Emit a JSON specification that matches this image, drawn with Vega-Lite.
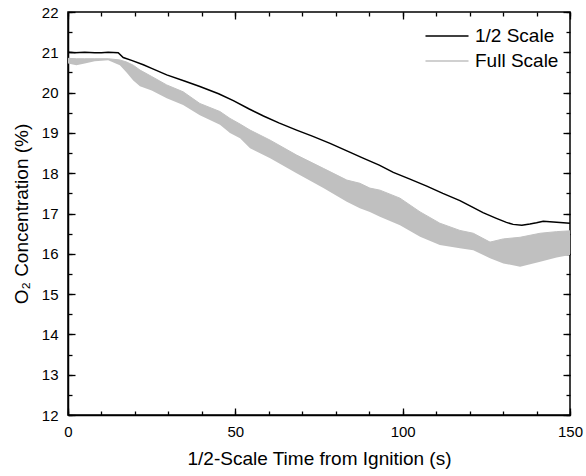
{
  "$schema": "https://vega.github.io/schema/vega-lite/v6.json",
  "width": 502,
  "height": 403,
  "autosize": {"type": "none"},
  "padding": {"left": 68, "top": 12, "right": 16, "bottom": 61},
  "config": {
    "view": {"stroke": "black", "strokeWidth": 1.5},
    "font": "Liberation Sans"
  },
  "datasets": {
    "half": [
      {"t": 0, "v": 21.0}, {"t": 2, "v": 20.99}, {"t": 5, "v": 21.0}, {"t": 8, "v": 20.99},
      {"t": 10, "v": 20.99}, {"t": 12, "v": 21.0}, {"t": 15, "v": 20.99}, {"t": 16.5, "v": 20.87},
      {"t": 19, "v": 20.8}, {"t": 22.5, "v": 20.69}, {"t": 25, "v": 20.6}, {"t": 29.5, "v": 20.44},
      {"t": 35, "v": 20.28}, {"t": 39.4, "v": 20.15}, {"t": 45, "v": 19.97}, {"t": 49.4, "v": 19.8},
      {"t": 54, "v": 19.6}, {"t": 58.4, "v": 19.42}, {"t": 63, "v": 19.25}, {"t": 68.3, "v": 19.07},
      {"t": 73, "v": 18.92}, {"t": 78.3, "v": 18.74}, {"t": 84, "v": 18.53}, {"t": 88, "v": 18.38},
      {"t": 93, "v": 18.2}, {"t": 97.2, "v": 18.02}, {"t": 102, "v": 17.86}, {"t": 107.2, "v": 17.68},
      {"t": 112, "v": 17.5}, {"t": 117.1, "v": 17.32}, {"t": 121, "v": 17.15}, {"t": 124, "v": 17.02},
      {"t": 128, "v": 16.88}, {"t": 131, "v": 16.78}, {"t": 133, "v": 16.73}, {"t": 135.6, "v": 16.71},
      {"t": 138, "v": 16.74}, {"t": 140, "v": 16.77}, {"t": 142, "v": 16.81}, {"t": 145, "v": 16.79},
      {"t": 148, "v": 16.77}, {"t": 150, "v": 16.76}
    ],
    "full": [
      {"t": 0, "lo": 20.72, "hi": 20.85}, {"t": 2.5, "lo": 20.68, "hi": 20.84},
      {"t": 5, "lo": 20.72, "hi": 20.84}, {"t": 8, "lo": 20.78, "hi": 20.84},
      {"t": 12, "lo": 20.8, "hi": 20.84}, {"t": 15.5, "lo": 20.68, "hi": 20.81},
      {"t": 17.5, "lo": 20.5, "hi": 20.76}, {"t": 19.5, "lo": 20.3, "hi": 20.68},
      {"t": 21.5, "lo": 20.16, "hi": 20.56}, {"t": 25, "lo": 20.05, "hi": 20.4},
      {"t": 29.5, "lo": 19.86, "hi": 20.19}, {"t": 34.4, "lo": 19.69, "hi": 20.02},
      {"t": 39.4, "lo": 19.44, "hi": 19.73}, {"t": 45.4, "lo": 19.2, "hi": 19.53},
      {"t": 48.4, "lo": 19.0, "hi": 19.36}, {"t": 51.4, "lo": 18.87, "hi": 19.22},
      {"t": 54.4, "lo": 18.62, "hi": 19.07}, {"t": 60.4, "lo": 18.37, "hi": 18.82},
      {"t": 68.3, "lo": 18.0, "hi": 18.45}, {"t": 76.3, "lo": 17.63, "hi": 18.12},
      {"t": 83.3, "lo": 17.29, "hi": 17.83}, {"t": 87.2, "lo": 17.13, "hi": 17.75},
      {"t": 90.2, "lo": 17.04, "hi": 17.63}, {"t": 93.2, "lo": 16.92, "hi": 17.58},
      {"t": 99.2, "lo": 16.71, "hi": 17.38}, {"t": 105.2, "lo": 16.42, "hi": 17.04},
      {"t": 111.1, "lo": 16.22, "hi": 16.76}, {"t": 117.1, "lo": 16.14, "hi": 16.58},
      {"t": 121.1, "lo": 16.09, "hi": 16.51}, {"t": 126.1, "lo": 15.89, "hi": 16.29},
      {"t": 130.1, "lo": 15.76, "hi": 16.37}, {"t": 135.1, "lo": 15.68, "hi": 16.41},
      {"t": 141.1, "lo": 15.8, "hi": 16.51}, {"t": 146, "lo": 15.91, "hi": 16.55},
      {"t": 150, "lo": 15.97, "hi": 16.57}
    ]
  },
  "resolve": {
    "scale": {"x": "independent", "y": "independent"},
    "axis": {"x": "independent", "y": "independent"}
  },
  "layer": [
    {
      "data": {"name": "full"},
      "mark": {"type": "area", "color": "#c0c0c0"},
      "encoding": {
        "x": {"field": "t", "type": "quantitative",
          "scale": {"domain": [0, 150], "nice": false, "zero": false},
          "axis": {"orient": "bottom", "values": [0, 50, 100, 150], "ticks": false, "grid": false,
            "domainColor": "black", "domainWidth": 1.5, "labelColor": "black", "labelFlush": false,
            "labelFont": "Liberation Sans", "labelPadding": 9, "labelFontSize": 15,
            "title": "1/2-Scale Time from Ignition (s)", "titleColor": "black", "titleFont": "Liberation Sans",
            "titleFontWeight": "normal", "titleFontSize": 19, "titlePadding": 10}},
        "y": {"field": "lo", "type": "quantitative",
          "scale": {"domain": [12, 22], "nice": false, "zero": false},
          "axis": {"orient": "left", "values": [12, 13, 14, 15, 16, 17, 18, 19, 20, 21, 22], "ticks": false, "grid": false,
            "domainColor": "black", "domainWidth": 1.5, "labelColor": "black", "labelFlush": false,
            "labelFont": "Liberation Sans", "labelPadding": 10, "labelFontSize": 15,
            "title": "O₂ Concentration (%)", "titleColor": "black", "titleFont": "Liberation Sans",
            "titleFontWeight": "normal", "titleFontSize": 19, "titlePadding": 10}},
        "y2": {"field": "hi"}
      }
    },
    {
      "data": {"name": "full"},
      "mark": {"type": "line", "strokeWidth": 1},
      "encoding": {
        "x": {"field": "t", "type": "quantitative",
          "scale": {"domain": [0, 150], "nice": false, "zero": false},
          "axis": {"orient": "top", "offset": -403, "tickCount": 3, "grid": false,
            "labels": false, "domain": false, "tickColor": "black", "tickWidth": 1.3, "tickSize": 7, "title": null}},
        "y": {"field": "hi", "type": "quantitative",
          "scale": {"domain": [12, 22], "nice": false, "zero": false},
          "axis": {"orient": "right", "offset": -502, "tickCount": 10, "grid": false,
            "labels": false, "domain": false, "tickColor": "black", "tickWidth": 1.3, "tickSize": 7, "title": null}},
        "color": {"datum": "Full Scale", "type": "nominal",
          "scale": {"domain": ["1/2 Scale", "Full Scale"], "range": ["black", "#c0c0c0"]},
          "legend": {"title": null, "orient": "none", "legendX": 369, "legendY": 14,
            "symbolType": "M-2.39,0L2.39,0", "symbolSize": 324, "symbolStrokeWidth": 1.5,
            "symbolFillColor": "transparent",
            "labelFontSize": 19, "labelOffset": 18, "rowPadding": 5, "padding": 0, "labelColor": "black"}}
      }
    },
    {
      "data": {"name": "half"},
      "mark": {"type": "line", "strokeWidth": 1.5},
      "encoding": {
        "x": {"field": "t", "type": "quantitative",
          "scale": {"domain": [0, 150], "nice": false, "zero": false},
          "axis": {"orient": "top", "offset": -403, "tickCount": 15, "grid": false,
            "labels": false, "domain": false, "tickColor": "black", "tickWidth": 1.3, "tickSize": 4, "title": null}},
        "y": {"field": "v", "type": "quantitative",
          "scale": {"domain": [12, 22], "nice": false, "zero": false},
          "axis": {"orient": "right", "offset": -502, "tickCount": 20, "grid": false,
            "labels": false, "domain": false, "tickColor": "black", "tickWidth": 1.3, "tickSize": 4, "title": null}},
        "color": {"datum": "1/2 Scale", "type": "nominal"}
      }
    },
    {
      "data": {"name": "half"},
      "mark": {"type": "line", "opacity": 0},
      "encoding": {
        "x": {"field": "t", "type": "quantitative",
          "scale": {"domain": [0, 150], "nice": false, "zero": false},
          "axis": {"orient": "bottom", "offset": -403, "tickCount": 3, "grid": false,
            "labels": false, "domain": false, "tickColor": "black", "tickWidth": 1.3, "tickSize": 7, "title": null}},
        "y": {"field": "v", "type": "quantitative",
          "scale": {"domain": [12, 22], "nice": false, "zero": false},
          "axis": {"orient": "left", "offset": -502, "tickCount": 10, "grid": false,
            "labels": false, "domain": false, "tickColor": "black", "tickWidth": 1.3, "tickSize": 7, "title": null}}
      }
    },
    {
      "data": {"name": "half"},
      "mark": {"type": "line", "opacity": 0},
      "encoding": {
        "x": {"field": "t", "type": "quantitative",
          "scale": {"domain": [0, 150], "nice": false, "zero": false},
          "axis": {"orient": "bottom", "offset": -403, "tickCount": 15, "grid": false,
            "labels": false, "domain": false, "tickColor": "black", "tickWidth": 1.3, "tickSize": 4, "title": null}},
        "y": {"field": "v", "type": "quantitative",
          "scale": {"domain": [12, 22], "nice": false, "zero": false},
          "axis": {"orient": "left", "offset": -502, "tickCount": 20, "grid": false,
            "labels": false, "domain": false, "tickColor": "black", "tickWidth": 1.3, "tickSize": 4, "title": null}}
      }
    }
  ]
}
